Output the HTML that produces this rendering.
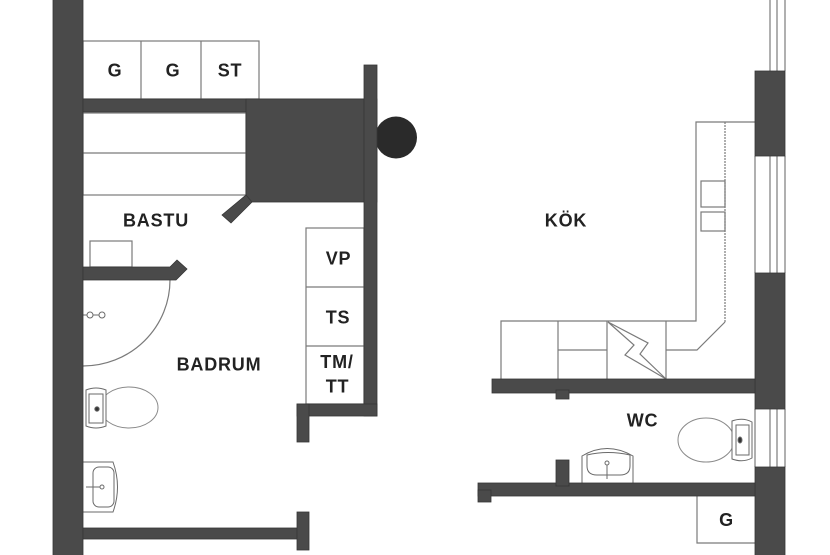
<!DOCTYPE html>
<html><head><meta charset="utf-8"><style>
html,body{margin:0;padding:0;background:#fff;}
svg{display:block;}
text{font-family:"Liberation Sans",sans-serif;font-weight:bold;font-size:18px;fill:#222;letter-spacing:0.8px;}
</style></head><body>
<svg width="830" height="555" viewBox="0 0 830 555" xmlns="http://www.w3.org/2000/svg">
<rect width="830" height="555" fill="#fff"/>
<!-- thin fixture lines -->
<g fill="none" stroke="#7a7a7a" stroke-width="1.2">
  <!-- cabinets -->
  <rect x="83" y="41" width="176" height="58"/>
  <line x1="141" y1="41" x2="141" y2="99"/>
  <line x1="201" y1="41" x2="201" y2="99"/>
  <!-- bastu benches -->
  <rect x="83" y="113" width="163" height="82"/>
  <line x1="83" y1="153" x2="246" y2="153"/>
  <rect x="90" y="241" width="42" height="26"/>
  <!-- shower -->
  <path d="M170 280 A87 86 0 0 1 83 366"/>
  <!-- VP TS TM -->
  <rect x="306" y="228" width="58" height="176"/>
  <line x1="306" y1="287" x2="364" y2="287"/>
  <line x1="306" y1="346" x2="364" y2="346"/>
  <!-- kitchen tall counter -->
  <polyline points="755,122 696,122 696,321 501,321 501,379"/>
  <line x1="725" y1="122" x2="725" y2="322" stroke-dasharray="2 1"/>
  <polyline points="725,322 697,350 666,350"/>
  <line x1="558" y1="321" x2="558" y2="379"/>
  <line x1="607" y1="321" x2="607" y2="379"/>
  <line x1="666" y1="321" x2="666" y2="379"/>
  <line x1="558" y1="350" x2="607" y2="350"/>
  <polygon points="608,322 648,343 640,354 666,379 625,355 634,345"/>
  <rect x="701" y="181" width="24" height="26"/>
  <rect x="701" y="212" width="24" height="19"/>
  <!-- G box -->
  <polyline points="697,496 697,543 755,543"/>
  <!-- windows -->
  <line x1="770" y1="0" x2="770" y2="71"/>
  <line x1="777" y1="0" x2="777" y2="71"/>
  <line x1="785" y1="0" x2="785" y2="71"/>
  <line x1="755" y1="156" x2="755" y2="273"/>
  <line x1="770" y1="156" x2="770" y2="273"/>
  <line x1="777" y1="156" x2="777" y2="273"/>
  <line x1="785" y1="156" x2="785" y2="273"/>
  <line x1="755" y1="409" x2="755" y2="467"/>
  <line x1="770" y1="409" x2="770" y2="467"/>
  <line x1="777" y1="409" x2="777" y2="467"/>
  <line x1="785" y1="409" x2="785" y2="467"/>
</g>
<!-- sanitary fixtures -->
<g fill="#fff" stroke="#6a6a6a" stroke-width="1">
  <!-- shower head -->
  <line x1="83" y1="315" x2="101" y2="315"/>
  <circle cx="90" cy="315" r="3"/>
  <circle cx="102" cy="315" r="3"/>
  <!-- badrum toilet -->
  <ellipse cx="129" cy="407.5" rx="29" ry="20.5" stroke="#8a8a8a"/>
  <path d="M86 390 Q96 386 106 390 L106 426 Q96 430 86 426 Z"/>
  <path d="M89 394 L103 394 L103 423 L89 423 Z"/>
  <circle cx="97" cy="409" r="2.2" fill="#333"/>
  <!-- badrum sink -->
  <path d="M83 462 L113 462 Q122 487 113 512 L83 512"/>
  <rect x="93" y="467" width="21" height="40" rx="6"/>
  <line x1="86" y1="487" x2="102" y2="487"/>
  <circle cx="102" cy="487" r="2"/>
  <!-- WC toilet -->
  <ellipse cx="706" cy="440" rx="28" ry="22" stroke="#8a8a8a"/>
  <path d="M732 421 Q743 417 752 422 L752 458 Q743 463 732 459 Z"/>
  <path d="M736 425 L749 425 L749 455 L736 455 Z"/>
  <ellipse cx="740" cy="440" rx="2" ry="3" fill="#333"/>
  <!-- WC sink -->
  <path d="M582 483 L582 456 Q607 441 633 456 L633 483"/>
  <path d="M587 455 Q608 450 630 455 L630 466 Q630 475 620 475 L597 475 Q587 475 587 466 Z"/>
  <line x1="607" y1="463" x2="607" y2="479"/>
  <circle cx="607" cy="463" r="2"/>
</g>
<!-- circle -->
<circle cx="396" cy="137.5" r="21" fill="#2a2a2a"/>
<!-- walls -->
<g fill="#4a4a4a" stroke="#353535" stroke-width="0.8">
  <rect x="53" y="-2" width="30" height="560"/>
  <rect x="83" y="99" width="281" height="13"/>
  <rect x="246" y="99" width="131" height="103"/>
  <rect x="364" y="65" width="13" height="351"/>
  <polygon points="246,195 252,202 231,223 222,215"/>
  <polygon points="83,267 170,267 177,260 187,269 176,280 83,280"/>
  <rect x="297" y="404" width="80" height="12"/>
  <rect x="297" y="404" width="12" height="38"/>
  <rect x="83" y="528" width="222" height="11"/>
  <rect x="297" y="512" width="12" height="38"/>
  <rect x="755" y="71" width="30" height="85"/>
  <rect x="755" y="273" width="30" height="136"/>
  <rect x="755" y="467" width="30" height="90"/>
  <rect x="492" y="379" width="263" height="14"/>
  <rect x="556" y="390" width="13" height="9"/>
  <rect x="478" y="483" width="277" height="13"/>
  <rect x="478" y="490" width="13" height="12"/>
  <rect x="556" y="460" width="13" height="26"/>
</g>
<!-- labels -->
<g text-anchor="middle">
  <text x="115" y="76.5">G</text>
  <text x="173" y="76.5">G</text>
  <text x="230" y="76.5">ST</text>
  <text x="156" y="226.5">BASTU</text>
  <text x="219" y="370.5">BADRUM</text>
  <text x="338.5" y="264.5">VP</text>
  <text x="338" y="323.5">TS</text>
  <text x="337" y="368">TM/</text>
  <text x="337.5" y="392.5">TT</text>
  <text x="566" y="226.5">KÖK</text>
  <text x="642.5" y="426.5">WC</text>
  <text x="726.5" y="526">G</text>
</g>
</svg>
</body></html>
